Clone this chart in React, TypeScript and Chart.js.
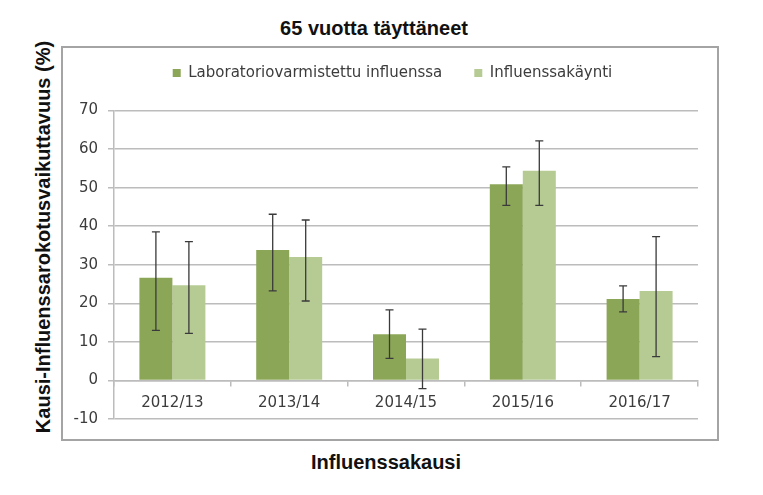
import React, { useEffect, useRef } from 'react';
import { Chart, registerables } from 'chart.js';

Chart.register(...registerables);

const categories = ['2012/13', '2013/14', '2014/15', '2015/16', '2016/17'];
const seriesNames = ['Laboratoriovarmistettu influenssa', 'Influenssakäynti'];
const labValues = [26.6, 33.8, 12.0, 50.9, 21.1];
const labLow = [13.0, 23.2, 5.7, 45.4, 17.8];
const labHigh = [38.5, 43.1, 18.3, 55.4, 24.5];
const visitValues = [24.7, 32.0, 5.7, 54.4, 23.2];
const visitLow = [12.2, 20.6, -2.1, 45.4, 6.2];
const visitHigh = [36.0, 41.6, 13.3, 62.1, 37.3];
const yMin = -10;
const yMax = 70;
const yStep = 10;
const titleText = '65 vuotta täyttäneet';
const yTitleText = 'Kausi-Influenssarokotusvaikuttavuus (%)';
const xTitleText = 'Influenssakausi';

const DARK = '#8ca658';
const LIGHT = '#b6cb94';
const GRID = '#bcbcbc';
const TEXT = '#3c3c3c';

const errorBarPlugin = {
  id: 'errorBars',
  afterDatasetsDraw(chart: any) {
    const { ctx } = chart;
    const yScale = chart.scales.y;
    ctx.save();
    ctx.strokeStyle = '#3a3a3a';
    ctx.lineWidth = 1.3;
    chart.data.datasets.forEach((ds: any, i: number) => {
      const meta = chart.getDatasetMeta(i);
      if (meta.hidden) return;
      meta.data.forEach((bar: any, j: number) => {
        const x = bar.x;
        const yLo = yScale.getPixelForValue(ds.errLow[j]);
        const yHi = yScale.getPixelForValue(ds.errHigh[j]);
        ctx.beginPath();
        ctx.moveTo(x, yLo);
        ctx.lineTo(x, yHi);
        ctx.moveTo(x - 4, yLo);
        ctx.lineTo(x + 4, yLo);
        ctx.moveTo(x - 4, yHi);
        ctx.lineTo(x + 4, yHi);
        ctx.stroke();
      });
    });
    ctx.restore();
  },
};

// extra room below the legend row, and centre the legend on the framed box
const legendSpacer = {
  id: 'legendSpacer',
  beforeLayout(chart: any) {
    const lg = chart.legend;
    if (lg && !lg.__spaced) {
      const fit = lg.fit;
      lg.fit = function () {
        fit.call(this);
        this.height += 20;
      };
      lg.__spaced = true;
    }
  },
  afterLayout(chart: any) {
    const lg = chart.legend;
    if (lg) {
      lg.left += 12;
      lg.right += 12;
    }
  },
};

export default function App() {
  const canvasRef = useRef<HTMLCanvasElement | null>(null);

  useEffect(() => {
    if (!canvasRef.current) return;
    const chart = new Chart(canvasRef.current, {
      type: 'bar',
      data: {
        labels: categories,
        datasets: [
          {
            label: seriesNames[0],
            data: labValues,
            backgroundColor: DARK,
            borderWidth: 0,
            errLow: labLow,
            errHigh: labHigh,
          } as any,
          {
            label: seriesNames[1],
            data: visitValues,
            backgroundColor: LIGHT,
            borderWidth: 0,
            errLow: visitLow,
            errHigh: visitHigh,
          } as any,
        ],
      },
      options: {
        responsive: false,
        animation: false,
        devicePixelRatio: 1,
        layout: { padding: { left: 0, right: 19, top: -14.5, bottom: 20 } },
        datasets: { bar: { categoryPercentage: 0.565, barPercentage: 1 } },
        plugins: {
          title: { display: false },
          tooltip: { enabled: false },
          legend: {
            display: true,
            position: 'top',
            align: 'center',
            labels: {
              boxWidth: 8,
              boxHeight: 8,
              padding: 32,
              color: TEXT,
              font: { family: 'DejaVu Sans', size: 15 },
            },
          },
        },
        scales: {
          x: {
            position: { y: 0 } as any,
            offset: true,
            grid: {
              display: true,
              drawOnChartArea: false,
              drawTicks: true,
              tickLength: 5,
              color: GRID,
              lineWidth: 1.5,
            },
            border: { display: true, color: GRID, width: 1.5 },
            ticks: {
              color: TEXT,
              padding: 9,
              font: { family: 'DejaVu Sans', size: 15 },
            },
          },
          y: {
            min: yMin,
            max: yMax,
            afterFit(scale: any) {
              scale.width = 51;
            },
            ticks: {
              stepSize: yStep,
              color: TEXT,
              padding: 10,
              font: { family: 'DejaVu Sans', size: 15 },
            },
            grid: {
              color: GRID,
              lineWidth: 1.5,
              drawTicks: true,
              tickLength: 6,
            },
            border: { display: true, color: GRID, width: 1.5 },
          },
        },
      },
      plugins: [errorBarPlugin, legendSpacer],
    });
    return () => chart.destroy();
  }, []);

  const boldTitle: React.CSSProperties = {
    position: 'absolute',
    fontFamily: '"Liberation Sans", Arial, sans-serif',
    fontWeight: 'bold',
    fontSize: 20,
    lineHeight: '20px',
    height: 20,
    whiteSpace: 'nowrap',
    color: '#111',
  };

  return (
    <div
      style={{
        position: 'fixed',
        left: 0,
        top: 0,
        width: 763,
        height: 495,
        background: '#fff',
        overflow: 'hidden',
      }}
    >
      <div style={{ ...boldTitle, left: 374, top: 18, transform: 'translateX(-50%)' }}>{titleText}</div>
      <div
        style={{
          ...boldTitle,
          left: 42.5,
          top: 237,
          transform: 'translate(-50%, -50%) rotate(-90deg)',
        }}
      >
        {yTitleText}
      </div>
      <div style={{ ...boldTitle, left: 386, top: 452, transform: 'translateX(-50%)' }}>{xTitleText}</div>
      <div
        style={{
          position: 'absolute',
          left: 61,
          top: 46,
          width: 658,
          height: 395,
          border: '2px solid #a4a4a4',
          boxSizing: 'border-box',
        }}
      >
        <canvas
          ref={canvasRef}
          width={654}
          height={391}
          style={{ display: 'block', width: 654, height: 391 }}
        />
      </div>
    </div>
  );
}
